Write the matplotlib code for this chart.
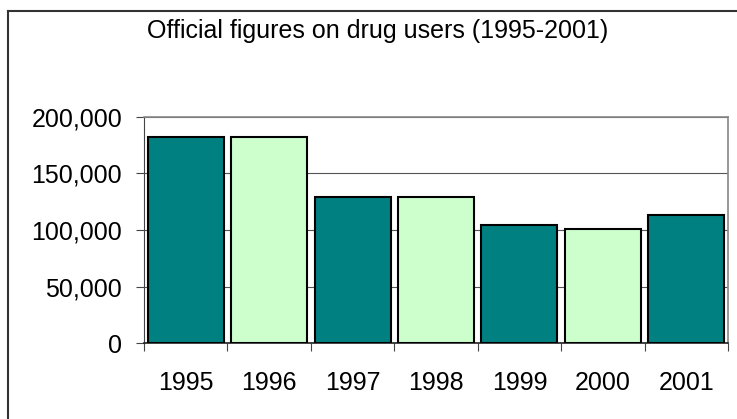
import matplotlib
matplotlib.use('Agg')
from matplotlib import pyplot as plt
from matplotlib.lines import Line2D

# data
years = ['1995', '1996', '1997', '1998', '1999', '2000', '2001']
users = [182000, 182000, 129000, 129200, 104000, 101200, 113000]
bar_colors = ['#008080', '#CCFFCC', '#008080', '#CCFFCC', '#008080', '#CCFFCC', '#008080']
y_ticks = [0, 50000, 100000, 150000, 200000]

plt.rcParams['font.family'] = ['Liberation Sans', 'DejaVu Sans']

fig = plt.figure(figsize=(7.37, 4.19), dpi=100)
ax = fig.add_axes([144/737, 1 - 343/419, 584/737, 226/419])

x = range(len(years))
ax.bar(x, users, width=0.91, color=bar_colors, edgecolor='black', linewidth=1.5, zorder=3)

ax.set_xlim(-0.5, len(years) - 0.5)
ax.set_ylim(0, 200000)
ax.set_yticks(y_ticks)
ax.set_yticklabels(['{:,}'.format(v) for v in y_ticks], fontsize=18)
ax.set_xticks(x)
ax.set_xticklabels(years, fontsize=18)
ax.tick_params(axis='x', length=0, pad=20)
ax.tick_params(axis='y', length=5.8, width=0.8, color='#444444', pad=10)

# tick marks between categories on the x axis
ax.set_xticks([i - 0.5 for i in range(len(years) + 1)], minor=True)
ax.tick_params(axis='x', which='minor', length=5.8, width=0.8, color='#444444')

ax.yaxis.grid(True, color='#555555', linewidth=0.8, zorder=0)
ax.spines['left'].set_color('#444444')
ax.spines['left'].set_linewidth(0.8)
ax.spines['bottom'].set_color('#222222')
ax.spines['bottom'].set_linewidth(1.2)
ax.spines['top'].set_color('#888888')
ax.spines['right'].set_color('#888888')
ax.spines['top'].set_linewidth(1.2)
ax.spines['right'].set_linewidth(1.2)

fig.text(378/737, 1 - 31/419, 'Official figures on drug users (1995-2001)',
         ha='center', va='center', fontsize=18)

# chart frame (only top and left edges are visible)
fig.add_artist(Line2D([8/737, 8/737], [0, 1 - 11/419], color='#333333', linewidth=1.5))
fig.add_artist(Line2D([8/737, 1], [1 - 11/419, 1 - 11/419], color='#333333', linewidth=1.5))

fig.savefig('out.png', dpi=100)
